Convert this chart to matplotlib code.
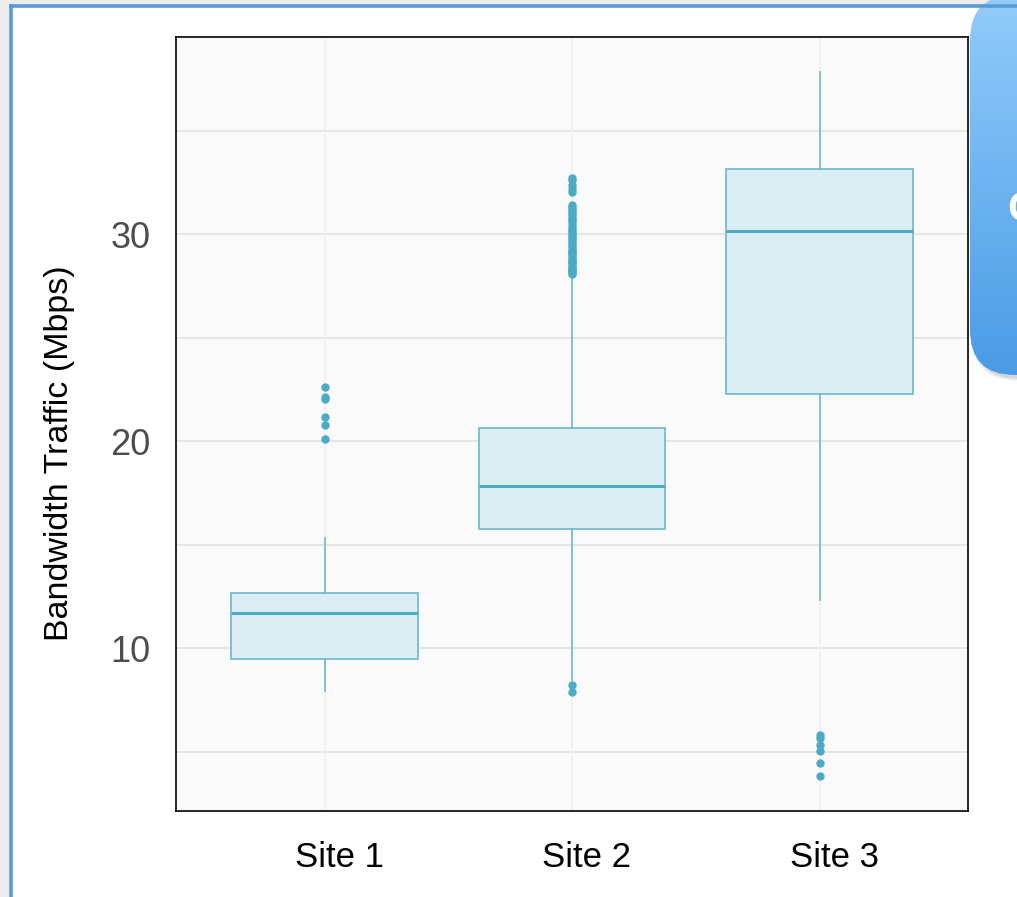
import numpy as np
import matplotlib
matplotlib.use("Agg")
import matplotlib.pyplot as plt
from matplotlib.patches import FancyBboxPatch, Rectangle
from matplotlib.lines import Line2D
from matplotlib.colors import LinearSegmentedColormap
import matplotlib.transforms as mtransforms

# ---------------- data ----------------
sites = ["Site 1", "Site 2", "Site 3"]
q1 = [9.47, 15.75, 22.27]
median = [11.69, 17.83, 30.14]
q3 = [12.66, 20.63, 33.14]
whisker_low = [7.92, 8.45, 12.32]
whisker_high = [15.31, 27.95, 37.83]
outliers_site1 = [22.61, 22.11, 22.01, 21.14, 20.77, 20.10]
outliers_site2 = [7.87, 8.20,
                  28.05, 28.1, 28.2, 28.25, 28.3, 28.4, 28.5, 28.6, 28.65, 28.7,
                  28.8, 28.9, 29.0, 29.1, 29.15, 29.2, 29.3, 29.4, 29.5, 29.6,
                  29.7, 29.8, 29.9, 30.0, 30.1, 30.2, 30.3, 30.45, 30.6, 30.7,
                  30.8, 30.9, 31.0, 31.1, 31.2, 31.3, 31.4,
                  32.05, 32.2, 32.35, 32.6, 32.7]
outliers_site3 = [5.80, 5.65, 5.31, 5.02, 4.44, 3.82]
y_ticks = [10, 20, 30]
y_grid = [5, 10, 15, 20, 25, 30, 35]

W, H = 1017, 897
plt.rcParams["font.family"] = ["Liberation Sans", "DejaVu Sans"]
fig = plt.figure(figsize=(W / 100, H / 100), dpi=100)
fig.patch.set_facecolor("white")

def fx(px):
    return px / W

def fy(py):
    return 1 - py / H

# ---------------- screenshot frame ----------------
fig.add_artist(Rectangle((0, 0), fx(9), 1, transform=fig.transFigure,
                         facecolor="#EDEDED", edgecolor="none", zorder=0))
fig.add_artist(Rectangle((0, fy(5)), 1, 5 / H, transform=fig.transFigure,
                         facecolor="#EDEDED", edgecolor="none", zorder=0))
fig.add_artist(Line2D([fx(10.5), fx(10.5)], [0, fy(6.5)], transform=fig.transFigure,
                      color="#5B9BD5", lw=2.6, zorder=1))
fig.add_artist(Line2D([fx(10.5), 1], [fy(6.5), fy(6.5)], transform=fig.transFigure,
                      color="#5B9BD5", lw=2.6, zorder=1))

# ---------------- main axes ----------------
ax = fig.add_axes([fx(176), fy(811), fx(968) - fx(176), fy(37) - fy(811)])
ax.set_facecolor("#FAFAFA")

color = "#4AABC5"
stats = []
fliers = [outliers_site1, outliers_site2, outliers_site3]
for i in range(3):
    stats.append(dict(label=sites[i], q1=q1[i], med=median[i], q3=q3[i],
                      whislo=whisker_low[i], whishi=whisker_high[i],
                      fliers=fliers[i]))

ax.bxp(stats, positions=[0, 1, 2], widths=0.754, patch_artist=True,
       showcaps=False,
       boxprops=dict(facecolor="#DCEEF4", edgecolor="#6BB8CE", linewidth=1.2),
       medianprops=dict(color=color, linewidth=2.2),
       whiskerprops=dict(color="#6BB8CE", linewidth=1.2),
       flierprops=dict(marker="o", markerfacecolor=color, markeredgecolor=color,
                       markersize=5, linestyle="none"),
       zorder=3)

ax.set_xlim(-0.6, 2.6)
ax.set_ylim(2.13, 39.52)

for g in y_grid:
    ax.axhline(g, color="#E6E6E6", lw=1.5, zorder=1)
for xpos in [0, 1, 2]:
    ax.axvline(xpos, color="#F0F0F0", lw=1.2, zorder=1)

ax.set_yticks(y_ticks)
ax.set_yticklabels([str(t) for t in y_ticks], fontsize=26, color="#4D4D4D")
ax.set_xticks([0, 1, 2])
ax.set_xticklabels(sites, fontsize=25, color="black")
ax.tick_params(axis="both", length=0)
ax.tick_params(axis="y", pad=18.5)
ax.tick_params(axis="x", pad=21.5)
offset = mtransforms.ScaledTranslation(15 / 100, 0, fig.dpi_scale_trans)
for lab in ax.get_xticklabels():
    lab.set_transform(lab.get_transform() + offset)

for s in ax.spines.values():
    s.set_color("black")
    s.set_linewidth(1.2)

fig.text(fx(60), fy(453), "Bandwidth Traffic (Mbps)", rotation=90,
         ha="center", va="center", fontsize=24.5, color="black")

# ---------------- callout (partially visible) ----------------
cx0, cx1 = 966, 1160
cy_top, cy_bot = -40, 395  # pixel coords (top to bottom)
cax = fig.add_axes([fx(cx0), fy(cy_bot), fx(cx1) - fx(cx0), (cy_bot - cy_top) / H])
cax.set_xlim(0, cx1 - cx0)
cax.set_ylim(0, cy_bot - cy_top)
cax.axis("off")
rect_left, rect_bottom = 4, 20  # px within cax
rect_top = (cy_bot - cy_top) - 35  # rect top at about y = -5 px in figure
rect_w, rect_h = 200, rect_top - rect_bottom
for k, a in enumerate([0.05, 0.08, 0.12]):
    sh = FancyBboxPatch((rect_left + 2 + k, rect_bottom - 6 + k), rect_w, rect_h,
                        boxstyle="round,pad=0,rounding_size=45",
                        facecolor="#555555", edgecolor="none", alpha=a, zorder=1)
    cax.add_patch(sh)
clip = FancyBboxPatch((rect_left, rect_bottom), rect_w, rect_h,
                      boxstyle="round,pad=0,rounding_size=45",
                      facecolor="none", edgecolor="none", zorder=2)
cax.add_patch(clip)
grad = np.linspace(0, 1, 256).reshape(-1, 1)
cmap = LinearSegmentedColormap.from_list("cb", ["#4A9BE6", "#92CCFA"])
im = cax.imshow(grad, extent=[0, cx1 - cx0, rect_bottom, rect_top],
                origin="lower", cmap=cmap, aspect="auto", zorder=3)
im.set_clip_path(clip)
fig.text(fx(1007), fy(210), "C", fontsize=30, color="white", fontweight="bold",
         ha="left", va="center")

fig.savefig("out.png", dpi=100, facecolor=fig.get_facecolor())
